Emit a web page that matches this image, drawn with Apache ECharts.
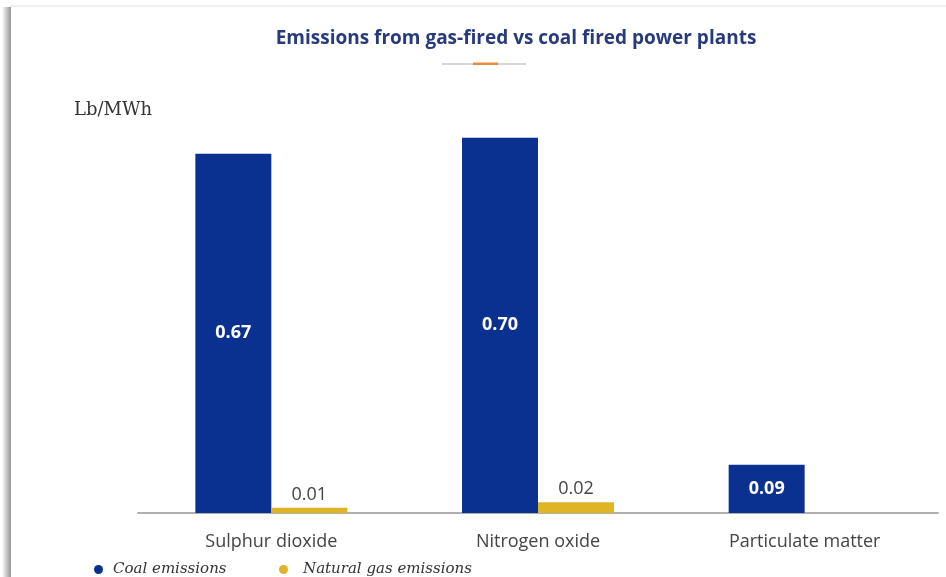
<!DOCTYPE html>
<html>
<head>
<meta charset="utf-8">
<script src="https://cdn.jsdelivr.net/npm/echarts@6/dist/echarts.min.js"></script>
<style>
  html, body { margin: 0; padding: 0; background: #ffffff; }
  #chart { width: 946px; height: 577px; }
</style>
</head>
<body>
<div id="chart"></div>
<script>
// Emission rates per pollutant, in lb per MWh
const categories = ['Sulphur dioxide', 'Nitrogen oxide', 'Particulate matter'];
const coalEmissions = [0.67, 0.70, 0.09];
const gasEmissions = [0.01, 0.02, null];
const seriesNames = ['Coal emissions', 'Natural gas emissions'];

const COAL = '#0b3190';
const GAS = '#dfb425';

const chart = echarts.init(document.getElementById('chart'));

chart.setOption({
  backgroundColor: '#ffffff',
  animation: false,
  title: {
    text: 'Emissions from gas-fired vs coal fired power plants',
    left: 511,
    textAlign: 'center',
    top: 24,
    textStyle: {
      fontFamily: 'Open Sans',
      fontWeight: 700,
      fontSize: 19,
      color: '#283a7c'
    }
  },
  graphic: [
    // page edge: faint top rule and soft shadow down the left side
    { type: 'rect', shape: { x: 10, y: 5, width: 936, height: 2 }, style: { fill: '#f1f1f1' }, silent: true },
    {
      type: 'rect', shape: { x: 2, y: 7, width: 9, height: 570 }, silent: true,
      style: {
        fill: new echarts.graphic.LinearGradient(0, 0, 1, 0, [
          { offset: 0, color: 'rgba(0,0,0,0)' },
          { offset: 1, color: 'rgba(0,0,0,0.42)' }
        ])
      }
    },
    // decorative rule under the title
    { type: 'rect', shape: { x: 442, y: 63, width: 84, height: 2 }, style: { fill: '#d6d6d6' }, silent: true },
    { type: 'rect', shape: { x: 473, y: 62.5, width: 25, height: 2.5 }, style: { fill: '#ee8a3a' }, silent: true },
    // unit label
    {
      type: 'text', left: 74, top: 101, silent: true,
      style: { text: 'Lb/MWh', font: '18px "DejaVu Serif"', fill: '#333333' }
    }
  ],
  legend: [
    {
      data: [seriesNames[0]],
      left: 89, top: 557,
      icon: 'circle', itemWidth: 9, itemHeight: 9,
      textStyle: { fontFamily: 'DejaVu Serif', fontStyle: 'italic', fontSize: 15, color: '#333333', padding: [0, 0, 0, 5] }
    },
    {
      data: [seriesNames[1]],
      left: 274, top: 557,
      icon: 'circle', itemWidth: 9, itemHeight: 9,
      textStyle: { fontFamily: 'DejaVu Serif', fontStyle: 'italic', fontSize: 15, color: '#333333', padding: [0, 0, 0, 10] }
    }
  ],
  grid: { left: 138, right: 8, top: 84, bottom: 64 },
  xAxis: {
    type: 'category',
    data: categories,
    axisLine: { lineStyle: { color: '#b0b0b0', width: 2 } },
    axisTick: { show: false },
    axisLabel: { margin: 20, fontFamily: 'Open Sans', fontSize: 18, color: '#444444' }
  },
  yAxis: {
    type: 'value',
    min: 0, max: 0.8,
    show: false,
    splitLine: { show: false }
  },
  series: [
    {
      name: seriesNames[0],
      type: 'bar',
      data: coalEmissions,
      barWidth: 76,
      barGap: '0%',
      itemStyle: { color: COAL },
      label: {
        show: true, position: 'inside',
        formatter: p => p.value.toFixed(2),
        fontFamily: 'Open Sans', fontWeight: 700, fontSize: 18, color: '#ffffff'
      }
    },
    {
      name: seriesNames[1],
      type: 'bar',
      data: gasEmissions,
      barWidth: 76,
      itemStyle: { color: GAS },
      label: {
        show: true, position: 'top', distance: 4,
        formatter: p => (p.value == null ? '' : p.value.toFixed(2)),
        fontFamily: 'Open Sans', fontSize: 18, color: '#444444'
      }
    }
  ]
});
</script>
</body>
</html>
